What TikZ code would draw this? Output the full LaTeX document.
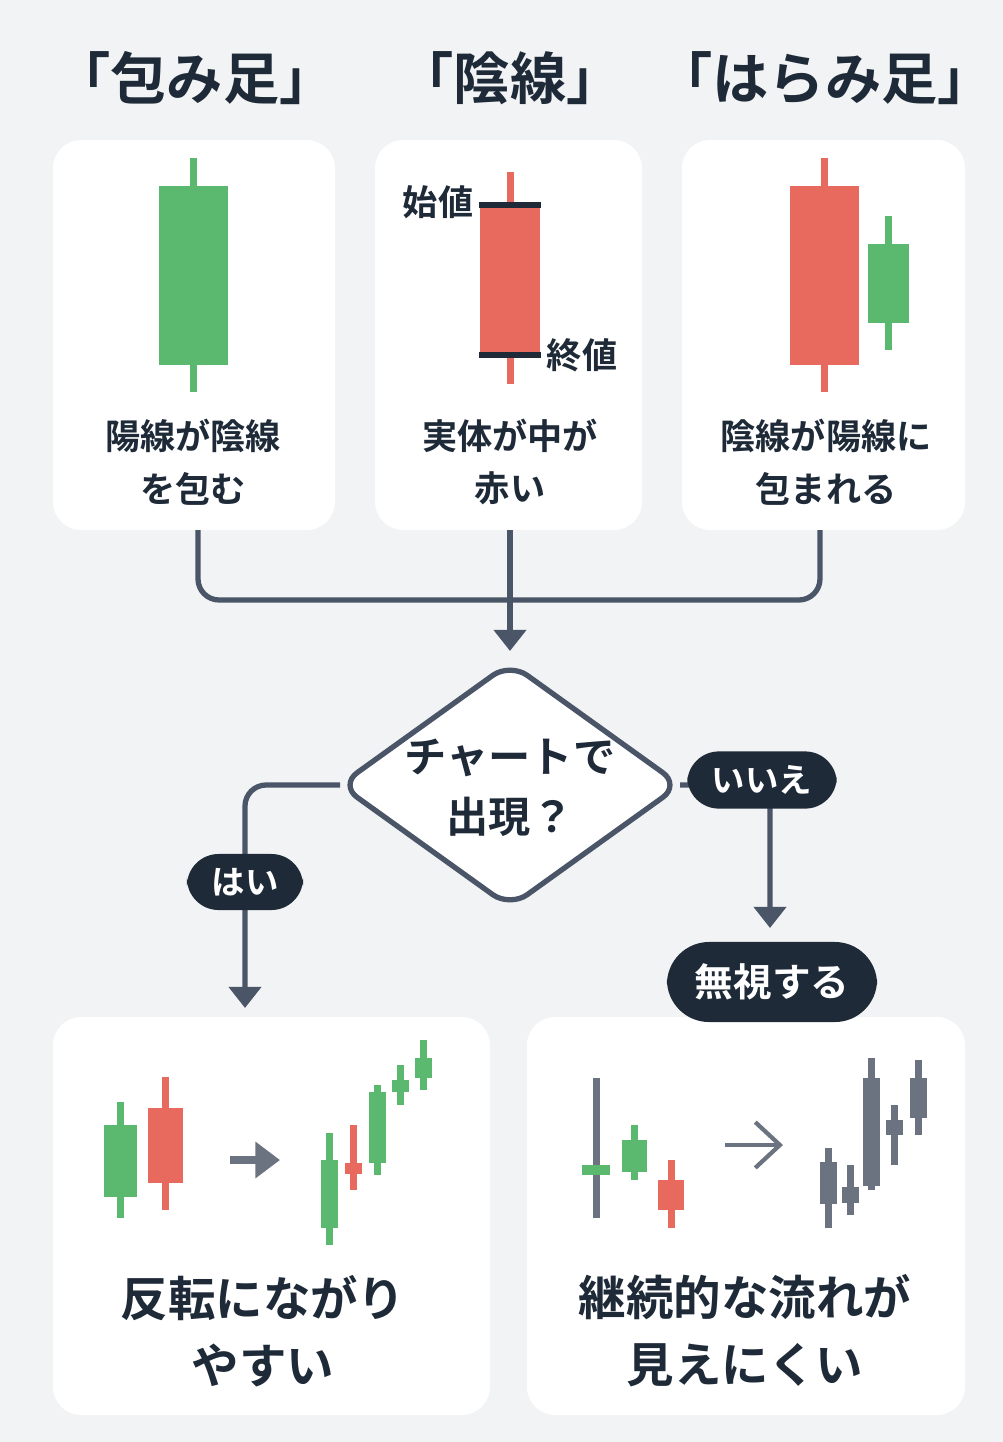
\documentclass[tikz,border=0pt]{standalone}
\usepackage{fontspec}
\newfontfamily\jp{Noto Sans CJK JP}[BoldFont={* Bold}]
\usetikzlibrary{arrows.meta,shapes.geometric,calc}
\definecolor{bg}{HTML}{F2F3F4}
\definecolor{gr}{HTML}{5BB96F}
\definecolor{rd}{HTML}{E8695E}
\definecolor{ln}{HTML}{4A5568}
\definecolor{nv}{HTML}{1E2A38}
\definecolor{gy}{HTML}{6B7280}
\newcommand\cdl[7]{% x, halfw, bodytop, bodybot, wicktop, wickbot, color
  \fill[#7] ({#1-3.5},#5) rectangle ({#1+3.5},#6);
  \fill[#7] ({#1-#2},#3) rectangle ({#1+#2},#4);}
\begin{document}
\begin{tikzpicture}[x=0.01cm,y=-0.01cm,font=\jp\bfseries,
  card/.style={fill=white,rounded corners=8pt},
  conn/.style={draw=ln,line width=1.5pt,rounded corners=6pt},
  arr/.style={-{Triangle[length=6pt,width=9pt]}},
  pill/.style={fill=nv,text=white,rounded corners=9pt,inner xsep=7pt,inner ysep=4pt,font=\jp\bfseries\fontsize{9.5}{11}\selectfont},
  ttl/.style={text=nv,font=\jp\bfseries\fontsize{16}{18}\selectfont},
  lbl/.style={text=nv,align=center,font=\jp\bfseries\fontsize{10}{15}\selectfont},
  big/.style={text=nv,align=center,font=\jp\bfseries\fontsize{13.5}{19}\selectfont}]
\fill[bg] (0,0) rectangle (1003,1442);
\useasboundingbox (0,0) rectangle (1003,1442);
% titles
\node[ttl] (t1) at (195,78) {「包み足」};
\node[ttl] (t2) at (510,78) {「陰線」};
\node[ttl] (t3) at (825,78) {「はらみ足」};
% cards
\fill[card] (53,140) rectangle (335,530);
\fill[card] (375,140) rectangle (642,530);
\fill[card] (682,140) rectangle (965,530);
\coordinate (c1) at (198,530);
\coordinate (c2) at (510,530);
\coordinate (c3) at (820,530);
\cdl{193}{34.5}{186}{365}{158}{392}{gr}
\cdl{510}{30}{205}{355}{172}{384}{rd}
\fill[nv] (479,202) rectangle (541,208);
\fill[nv] (479,352) rectangle (541,358);
\node[text=nv,font=\jp\bfseries\fontsize{10}{12}\selectfont] (op) at (438,202) {始値};
\node[text=nv,font=\jp\bfseries\fontsize{10}{12}\selectfont] (cl) at (582,355) {終値};
\cdl{824}{34.5}{186}{365}{158}{392}{rd}
\cdl{888}{20.5}{244}{323}{216}{350}{gr}
\node[lbl] (l1) at (193,462) {陽線が陰線\\を包む};
\node[lbl] (l2) at (510,462) {実体が中が\\赤い};
\node[lbl] (l3) at (826,462) {陰線が陽線に\\包まれる};
% diamond
\coordinate (dn) at (510,663);
\coordinate (de) at (680,785);
\coordinate (ds) at (510,907);
\coordinate (dw) at (340,785);
\draw[ln,line width=1.5pt,fill=white,rounded corners=6pt] (dn) -- (de) -- (ds) -- (dw) -- cycle;
\node[align=center,text=nv,font=\jp\bfseries\fontsize{12}{17}\selectfont] (d) at (510,788) {チャートで\\出現？};
\draw[conn] (c1) |- (510,600) -| (c3);
\coordinate (dt) at ($(dn)+(0,-12)$);
\draw[conn,arr,rounded corners=0] (c2) -- (dt);
% bottom cards
\fill[card] (53,1017) rectangle (490,1415);
\fill[card] (527,1017) rectangle (965,1415);
\coordinate (b1) at (245,1008);
\coordinate (b2) at (770,928);
\draw[conn,arr] (dw) -| (b1);
\draw[conn,arr] (de) -| (b2);
\node[pill] (yes) at (245,882) {はい};
\node[pill] (no) at (762,780) {いいえ};
\node[pill,font=\jp\bfseries\fontsize{11}{13}\selectfont,minimum width=2.1cm,minimum height=0.8cm,rounded corners=12pt] (ign) at (772,982) {無視する};
% left bottom chart
\cdl{120}{16.5}{1125}{1197}{1102}{1218}{gr}
\cdl{165}{17.5}{1108}{1183}{1077}{1210}{rd}
\draw[gy,line width=2pt,-{Triangle[length=7pt,width=10pt]}] (230,1160) -- (280,1160);
\cdl{329}{8.5}{1160}{1228}{1133}{1245}{gr}
\cdl{353}{8.5}{1163}{1174}{1125}{1190}{rd}
\cdl{377}{8.5}{1092}{1163}{1085}{1175}{gr}
\cdl{400}{8.5}{1080}{1092}{1065}{1105}{gr}
\cdl{423}{8.5}{1058}{1078}{1040}{1090}{gr}
% right bottom chart
\cdl{596}{14}{1165}{1175}{1078}{1218}{gy}
\fill[gr] (582,1165) rectangle (610,1175);
\cdl{634}{12.5}{1140}{1172}{1125}{1180}{gr}
\cdl{671}{13}{1180}{1210}{1160}{1228}{rd}
\draw[gy,line width=1.2pt,-{Straight Barb[length=7pt,width=13pt]}] (725,1145) -- (783,1145);
\cdl{828}{8.5}{1162}{1204}{1148}{1228}{gy}
\cdl{850}{8.5}{1187}{1203}{1165}{1215}{gy}
\cdl{871}{8.5}{1078}{1186}{1058}{1190}{gy}
\cdl{894}{8.5}{1120}{1135}{1105}{1165}{gy}
\cdl{918}{8.5}{1078}{1118}{1060}{1135}{gy}
\node[big] (r1) at (263,1331) {反転にながり\\やすい};
\node[big] (r2) at (745,1331) {継続的な流れが\\見えにくい};
\end{tikzpicture}
\end{document}
